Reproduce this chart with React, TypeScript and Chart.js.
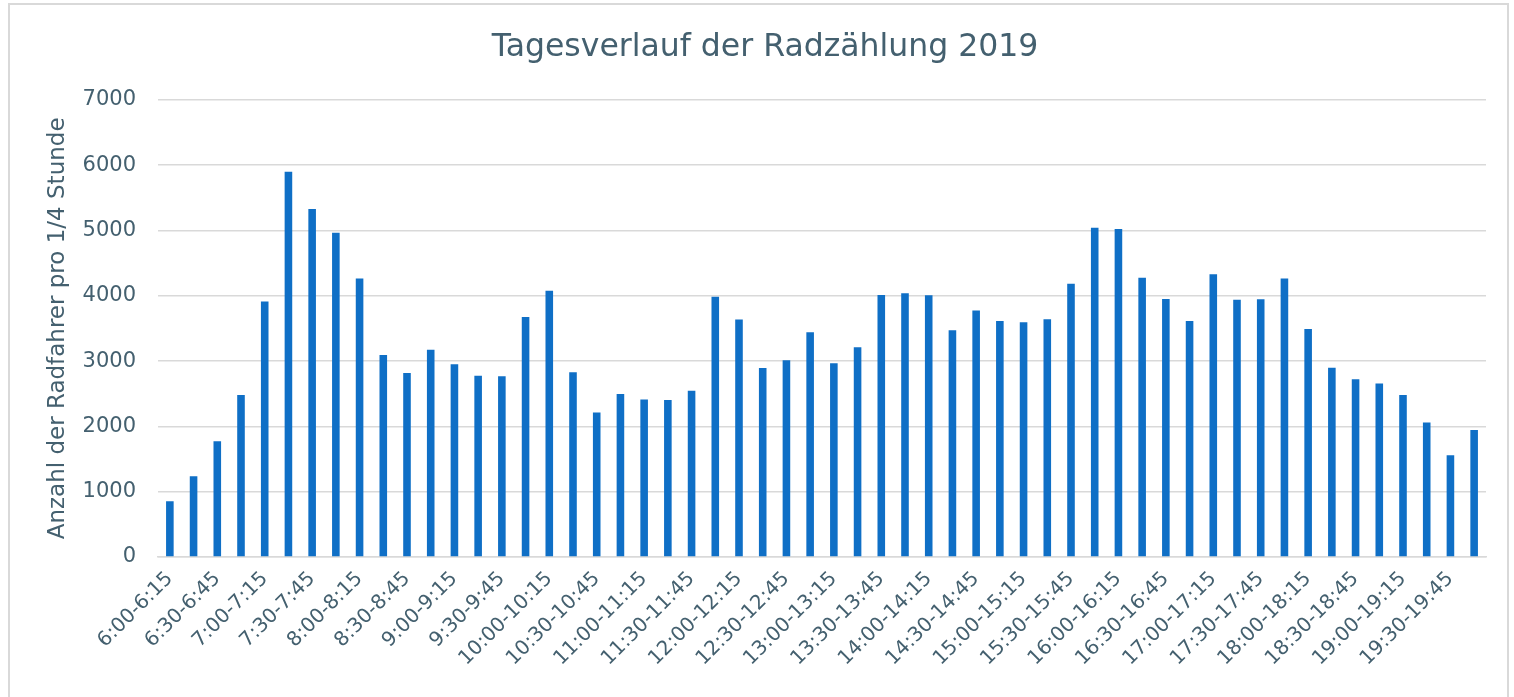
import React, { useEffect, useRef } from "react";
import { Chart, registerables } from "chart.js";

Chart.register(...registerables);

const categories: string[] = [
  "6:00-6:15", "6:15-6:30", "6:30-6:45", "6:45-7:00",
  "7:00-7:15", "7:15-7:30", "7:30-7:45", "7:45-8:00",
  "8:00-8:15", "8:15-8:30", "8:30-8:45", "8:45-9:00",
  "9:00-9:15", "9:15-9:30", "9:30-9:45", "9:45-10:00",
  "10:00-10:15", "10:15-10:30", "10:30-10:45", "10:45-11:00",
  "11:00-11:15", "11:15-11:30", "11:30-11:45", "11:45-12:00",
  "12:00-12:15", "12:15-12:30", "12:30-12:45", "12:45-13:00",
  "13:00-13:15", "13:15-13:30", "13:30-13:45", "13:45-14:00",
  "14:00-14:15", "14:15-14:30", "14:30-14:45", "14:45-15:00",
  "15:00-15:15", "15:15-15:30", "15:30-15:45", "15:45-16:00",
  "16:00-16:15", "16:15-16:30", "16:30-16:45", "16:45-17:00",
  "17:00-17:15", "17:15-17:30", "17:30-17:45", "17:45-18:00",
  "18:00-18:15", "18:15-18:30", "18:30-18:45", "18:45-19:00",
  "19:00-19:15", "19:15-19:30", "19:30-19:45", "19:45-20:00",
];

const counts: number[] = [
  854, 1237, 1774, 2480, 3911, 5900, 5327, 4964,
  4264, 3093, 2817, 3175, 2950, 2776, 2766, 3676,
  4075, 2827, 2214, 2495, 2413, 2403, 2546, 3983,
  3635, 2894, 3011, 3441, 2965, 3211, 4013, 4039,
  4008, 3471, 3773, 3614, 3594, 3640, 4182, 5041,
  5020, 4274, 3952, 3614, 4330, 3937, 3947, 4264,
  3492, 2899, 2720, 2658, 2480, 2060, 1559, 1943,
];

const yTicks: number[] = [0, 1000, 2000, 3000, 4000, 5000, 6000, 7000];

const chartTitle = "Tagesverlauf der Radzählung 2019";
const yTitle = "Anzahl der Radfahrer pro 1/4 Stunde";

const TEXT = "#44606f";
const FONT = "'DejaVu Sans', sans-serif";

const borderPlugin = {
  id: "outerBorder",
  beforeDraw(chart: any) {
    const ctx = chart.ctx;
    ctx.save();
    ctx.fillStyle = "#ffffff";
    ctx.fillRect(0, 0, chart.width, chart.height);
    ctx.strokeStyle = "#d9d9d9";
    ctx.lineWidth = 2;
    ctx.strokeRect(9, 4, 1499, 700);
    ctx.restore();
  },
};

export default function App() {
  const ref = useRef<HTMLCanvasElement | null>(null);

  useEffect(() => {
    if (!ref.current) return;
    const chart = new Chart(ref.current, {
      type: "bar",
      data: {
        labels: categories,
        datasets: [
          {
            data: counts,
            backgroundColor: "#0f6fc6",
            borderWidth: 0,
            categoryPercentage: 1,
            barPercentage: 0.32,
          },
        ],
      },
      plugins: [borderPlugin],
      options: {
        responsive: false,
        animation: false,
        maintainAspectRatio: false,
        layout: { padding: { left: 44, right: 28, top: 0, bottom: 0 } },
        plugins: {
          legend: { display: false },
          tooltip: { enabled: false },
          title: {
            display: true,
            text: chartTitle,
            color: TEXT,
            font: { family: FONT, size: 31.5, weight: "normal" },
            padding: { top: 29, bottom: 33 },
          },
        },
        scales: {
          x: {
            grid: { display: false, drawTicks: false },
            border: { display: true, color: "#d9d9d9", width: 1.5 },
            ticks: {
              autoSkip: false,
              minRotation: 45,
              maxRotation: 45,
              padding: 10,
              color: TEXT,
              font: { family: FONT, size: 20 },
              callback: (_v: any, i: number) => (i % 2 === 0 ? categories[i] : ""),
            },
            afterFit: (s: any) => {
              s.height = 140;
            },
          },
          y: {
            min: 0,
            max: 7000,
            afterBuildTicks: (s: any) => {
              s.ticks = yTicks.map((v) => ({ value: v }));
            },
            grid: { color: "#d9d9d9", lineWidth: 1.5, drawTicks: false },
            border: { display: false },
            ticks: {
              padding: 22,
              color: TEXT,
              font: { family: FONT, size: 21 },
              callback: (v: any) => String(v),
            },
            title: {
              display: true,
              text: yTitle,
              color: TEXT,
              font: { family: FONT, size: 23 },
              padding: { top: 0, bottom: 0 },
            },
            afterFit: (s: any) => {
              s.width = 114;
            },
          },
        },
      },
    });
    return () => chart.destroy();
  }, []);

  return (
    <div style={{ position: "fixed", left: 0, top: 0, width: 1514, height: 697 }}>
      <canvas ref={ref} width={1514} height={697} style={{ display: "block" }} />
    </div>
  );
}
